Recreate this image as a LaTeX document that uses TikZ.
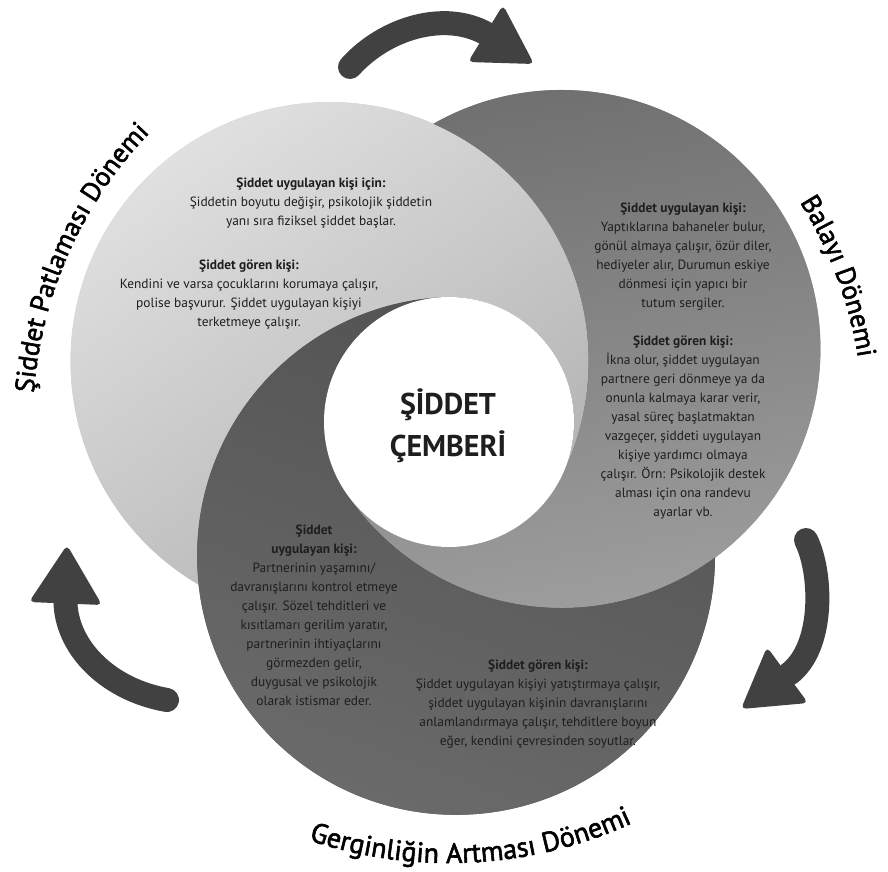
\documentclass[tikz,border=0pt]{standalone}
\usepackage{fontspec}
\setmainfont{PT Sans}
\newfontfamily\lblfont{PT Sans}[FakeBold=2]
\usetikzlibrary{calc,decorations.text}
\definecolor{arrowc}{HTML}{414141}
\definecolor{txtc}{HTML}{1E1E1E}
\definecolor{lTop}{HTML}{E4E4E4}
\definecolor{lBot}{HTML}{B2B2B2}
\definecolor{mLeft}{HTML}{6E6E6E}
\definecolor{mRight}{HTML}{A0A0A0}
\definecolor{dTop}{HTML}{525252}
\definecolor{dBot}{HTML}{6A6A6A}
\newcommand\myswirl[1]{($(W)+(#1:\dd)+(#1+\bb:\Rb)$) arc[start angle=#1+\bb, end angle=#1-180, radius=\Rb] arc[start angle=#1-180, end angle=#1-60, radius=\rw] arc[start angle=#1-60, end angle=#1+120-\bb, radius=\Rb] -- cycle}
\begin{document}
\begin{tikzpicture}[x=1pt,y=1pt,
  bodytext/.style={font=\fontsize{13.4}{19}\selectfont, text=txtc, align=center, inner sep=0pt},
  titletext/.style={font=\bfseries\fontsize{30}{30}\selectfont, text=txtc, inner sep=0pt, anchor=base},
  arrowbody/.style={draw=arrowc, line width=24pt, line cap=round},
  arrowhead/.style={fill=arrowc, rounded corners=5pt}
]
\useasboundingbox (0,0) rectangle (888,871);
\fill[white] (0,0) rectangle (888,871);
\def\Rb{259}\def\dd{134}\def\rw{125}
\pgfmathsetmacro\bb{150-acos(\dd*sqrt(3)/(2*\Rb))}
\coordinate (W) at (449,449);
% under layer (hides seams)
\fill[lBot!60!lTop] ($(W)+(153:\dd)$) circle[radius=\Rb];
\fill[mLeft!50!mRight] ($(W)+(33:\dd)$) circle[radius=\Rb];
\fill[dTop!50!dBot] ($(W)+(273:\dd)$) circle[radius=\Rb];
% swirl blades
\shade[top color=lTop, bottom color=lBot, shading angle=35] \myswirl{153};
\shade[left color=mLeft, right color=mRight, shading angle=10] \myswirl{33};
\shade[top color=dTop, bottom color=dBot, shading angle=-20] \myswirl{273};
% centre
\fill[white] (W) circle[radius=\rw];
\node[titletext] (t1) at (448,456) {ŞİDDET};
\node[titletext] (t2) at (448,414) {ÇEMBERİ};
% text blocks
\node[bodytext] (l1) at (311,667.5) {\textbf{Şiddet uygulayan kişi için:}\\ Şiddetin boyutu değişir, psikolojik şiddetin\\ yanı sıra fiziksel şiddet başlar.};
\node[bodytext] (l2) at (249,576.5) {\textbf{Şiddet gören kişi:}\\ Kendini ve varsa çocuklarını korumaya çalışır,\\ polise başvurur. Şiddet uygulayan kişiyi\\ terketmeye çalışır.};
\node[bodytext] (m1) at (683,510) {\textbf{Şiddet uygulayan kişi:}\\ Yaptıklarına bahaneler bulur,\\ gönül almaya çalışır, özür diler,\\ hediyeler alır, Durumun eskiye\\ dönmesi için yapıcı bir\\ tutum sergiler.\\[19pt] \textbf{Şiddet gören kişi:}\\ İkna olur, şiddet uygulayan\\ partnere geri dönmeye ya da\\ onunla kalmaya karar verir,\\ yasal süreç başlatmaktan\\ vazgeçer, şiddeti uygulayan\\ kişiye yardımcı olmaya\\ çalışır. Örn: Psikolojik destek\\ alması için ona randevu\\ ayarlar vb.};
\node[bodytext] (d1) at (314,255.5) {\textbf{Şiddet}\\ \textbf{uygulayan kişi:}\\ Partnerinin yaşamını/\\ davranışlarını kontrol etmeye\\ çalışır. Sözel tehditleri ve\\ kısıtlamarı gerilim yaratır,\\ partnerinin ihtiyaçlarını\\ görmezden gelir,\\ duygusal ve psikolojik\\ olarak istismar eder.};
\node[bodytext] (d2) at (538,166.5) {\textbf{Şiddet gören kişi:}\\ Şiddet uygulayan kişiyi yatıştırmaya çalışır,\\ şiddet uygulayan kişinin davranışlarını\\ anlamlandırmaya çalışır, tehditlere boyun\\ eğer, kendini çevresinden soyutlar.};
% curved labels
\path[decoration={text along path, text={|\lblfont\fontsize{27}{27}\selectfont|Şiddet Patlaması Dönemi}, text align=center}, decorate] ($(W)+(196:416)$) arc[start angle=196, end angle=116, radius=416];
\path[decoration={text along path, text={|\lblfont\fontsize{27}{27}\selectfont|Balayı Dönemi}, text align=center}, decorate] ($(W)+(60:414)$) arc[start angle=60, end angle=-19, radius=414];
\path[decoration={text along path, text={|\lblfont\fontsize{28}{28}\selectfont|Gerginliğin Artması Dönemi}, text align=center}, decorate] ($(W)+(233:441)$) arc[start angle=233, end angle=313, radius=441];
% arrows
\coordinate (ta) at (350,804); \coordinate (tc1) at (385,843); \coordinate (tc2) at (445,861); \coordinate (tb) at (487,837);
\coordinate (th1) at (503,866); \coordinate (th2) at (534,807); \coordinate (th3) at (468,809);
\draw[arrowbody] (ta) .. controls (tc1) and (tc2) .. (tb);
\fill[arrowhead] (th1) -- (th2) -- (th3) -- cycle;
\coordinate (ra) at (806,331); \coordinate (rc1) at (822,299); \coordinate (rc2) at (825,224); \coordinate (rb) at (789,197);
\coordinate (rh1) at (767,224); \coordinate (rh2) at (808,168); \coordinate (rh3) at (741,162);
\draw[arrowbody] (ra) .. controls (rc1) and (rc2) .. (rb);
\fill[arrowhead] (rh1) -- (rh2) -- (rh3) -- cycle;
\coordinate (la) at (167,171); \coordinate (lc1) at (110,181); \coordinate (lc2) at (68,221); \coordinate (lb) at (65.5,267);
\coordinate (lh1) at (29,269); \coordinate (lh2) at (102,266); \coordinate (lh3) at (67,326);
\draw[arrowbody] (la) .. controls (lc1) and (lc2) .. (lb);
\fill[arrowhead] (lh1) -- (lh2) -- (lh3) -- cycle;
\end{tikzpicture}
\end{document}
